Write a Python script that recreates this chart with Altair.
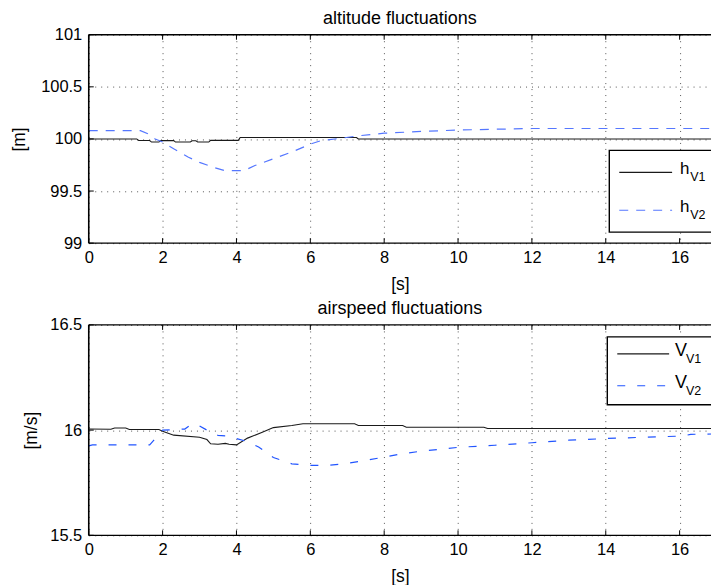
import altair as alt
import pandas as pd

# ---------------- data ----------------
x_ticks = [0, 2, 4, 6, 8, 10, 12, 14, 16]
alt_yticks = [99, 99.5, 100, 100.5, 101]
spd_yticks = [15.5, 16, 16.5]

# altitude, vehicle 1 (black solid)
t_h1 = [0, 1.3, 1.35, 1.65, 1.7, 1.9, 1.95, 2.3, 2.35, 2.75, 2.8, 2.9, 2.95,
        3.25, 3.3, 4.05, 4.1, 7.25, 7.3, 17]
h_v1 = [100, 100, 99.985, 99.985, 99.97, 99.97, 99.984, 99.984, 99.97, 99.97,
        99.982, 99.982, 99.97, 99.97, 99.986, 99.986, 100.014, 100.014, 100.0, 100.0]

# altitude, vehicle 2 (blue dashed)
t_h2 = [0, 1.4, 1.6, 1.8, 2.0, 2.3, 2.7, 3.0, 3.4, 3.7, 4.2, 4.5, 5.0, 5.5,
        6.0, 6.3, 6.8, 7.3, 8.0, 9.0, 10.0, 11.0, 12.0, 17.0]
h_v2 = [100.08, 100.08, 100.05, 100.0, 99.97, 99.905, 99.825, 99.775, 99.725,
        99.695, 99.695, 99.745, 99.81, 99.875, 99.95, 99.985, 100.005, 100.03,
        100.055, 100.072, 100.085, 100.093, 100.1, 100.1]

# airspeed, vehicle 1 (black solid)
t_v1 = [0, 0.6, 0.7, 1.0, 1.1, 1.9, 2.0, 2.3, 3.0, 3.2, 3.3, 3.5, 3.7, 3.8,
        4.0, 4.3, 4.7, 5.0, 5.5, 5.8, 7.2, 7.3, 8.5, 8.6, 10.7, 10.8, 17]
v_v1 = [16.005, 16.004, 16.01, 16.01, 16.003, 16.003, 15.995, 15.976, 15.966,
        15.955, 15.935, 15.933, 15.937, 15.933, 15.93, 15.962, 15.99, 16.012,
        16.022, 16.03, 16.03, 16.022, 16.022, 16.014, 16.014, 16.008, 16.008]

# airspeed, vehicle 2 (blue dashed)
t_v2 = [0, 0.1, 1.65, 1.85, 2.0, 2.6, 2.8, 3.0, 3.3, 3.5, 3.8, 4.0, 4.3, 4.6,
        5.0, 5.5, 6.0, 6.5, 7.0, 7.5, 8.0, 8.5, 9.0, 10.0, 11.0, 12.0, 13.0,
        14.0, 15.0, 16.1, 16.3, 17]
v_v2 = [15.925, 15.93, 15.93, 15.97, 16.0, 16.005, 16.03, 16.02, 15.99, 15.975,
        15.972, 15.96, 15.945, 15.92, 15.87, 15.84, 15.832, 15.833, 15.842,
        15.856, 15.872, 15.888, 15.9, 15.918, 15.928, 15.94, 15.952, 15.96,
        15.966, 15.972, 15.98, 15.982]

panel_titles = ["altitude fluctuations", "airspeed fluctuations"]
alt_legend_main = ["h", "h"]
spd_legend_main = ["V", "V"]
legend_sub = ["V1", "V2"]

# ---------------- styling ----------------
FONT = "Liberation Sans"
XMAX = 16.85
W = 624
GRID = dict(gridDash=[1, 5], gridColor="#555555", gridWidth=1, gridOpacity=1)


def panel(t1, y1, t2, y2, ydom, yticks, ytitle, ytitle_x, title, H, blue, dash,
          leg_main, leg_box, leg_lines, main_fs):
    xs = alt.Scale(domain=[0, XMAX], nice=False, zero=False)
    ys = alt.Scale(domain=ydom, nice=False, zero=False)
    d1 = pd.DataFrame({"t": t1, "v": y1})
    d2 = pd.DataFrame({"t": t2, "v": y2})

    xaxis = alt.Axis(values=x_ticks, ticks=False, domain=False, labelFlush=False,
                     labelFont=FONT, labelFontSize=16.5, labelColor="black",
                     labelPadding=6.5, title="[s]", titleFont=FONT,
                     titleFontSize=17.5, titleFontWeight="normal",
                     titleColor="black", titleY=41, titleBaseline="middle", **GRID)
    yaxis = alt.Axis(values=yticks, format="~g", ticks=False, domain=False,
                     labelFont=FONT, labelFontSize=16.5, labelColor="black",
                     labelPadding=7, title=ytitle, titleFont=FONT,
                     titleFontSize=17.5, titleFontWeight="normal",
                     titleColor="black", titleX=ytitle_x, titleY=H / 2,
                     titleAngle=270, titleAlign="center", titleBaseline="middle",
                     **GRID)
    X = alt.X("t:Q", scale=xs, axis=xaxis)
    Y = alt.Y("v:Q", scale=ys, axis=yaxis)

    line1 = alt.Chart(d1).mark_line(color="#1a1a1a", strokeWidth=1.1, clip=True).encode(
        x=X, y=Y)
    line2 = alt.Chart(d2).mark_line(color=blue, strokeWidth=1.2, strokeDash=dash,
                                    clip=True).encode(x=X, y=Y)

    one = pd.DataFrame({"k": [0]})
    ttl = alt.Chart(pd.DataFrame({"title": [title]})).mark_text(
        font=FONT, fontSize=18, align="center", baseline="alphabetic",
        color="black").encode(text="title:N", x=alt.value(W / 2), y=alt.value(-11))

    bx0, by0, by1 = leg_box
    box = alt.Chart(one).mark_rect(fill="white", stroke="black", strokeWidth=1.4,
                                   clip=True).encode(
        x=alt.value(bx0), x2=alt.value(W + 20), y=alt.value(by0), y2=alt.value(by1))

    layers = [line1, line2, ttl, box]
    lx0, lx1, tx, ly = leg_lines
    styles = [dict(color="#1a1a1a", strokeWidth=1.1),
              dict(color=blue, strokeWidth=1.2, strokeDash=dash)]
    for i in range(2):
        ld = pd.DataFrame({"m": [leg_main[i]], "s": [legend_sub[i]]})
        layers.append(alt.Chart(ld).mark_rule(**styles[i]).encode(
            x=alt.value(lx0), x2=alt.value(lx1), y=alt.value(ly[i])))
        layers.append(alt.Chart(ld).mark_text(
            font=FONT, fontSize=main_fs, align="left", baseline="alphabetic",
            color="black").encode(text="m:N", x=alt.value(tx), y=alt.value(ly[i] + 2)))
        layers.append(alt.Chart(ld).mark_text(
            font=FONT, fontSize=12.5, align="left", baseline="alphabetic",
            color="black").encode(text="s:N", x=alt.value(tx + main_fs * 0.6),
                                  y=alt.value(ly[i] + 9)))

    # frame (top, left, bottom) and inward MATLAB-style ticks
    layers.append(alt.Chart(one).mark_rule(color="black", strokeWidth=1.3).encode(
        x=alt.value(0), x2=alt.value(W), y=alt.value(0)))
    layers.append(alt.Chart(one).mark_rule(color="black", strokeWidth=1.3).encode(
        x=alt.value(0), x2=alt.value(W), y=alt.value(H)))
    layers.append(alt.Chart(one).mark_rule(color="black", strokeWidth=1.6).encode(
        x=alt.value(0), y=alt.value(0), y2=alt.value(H)))
    xt = pd.DataFrame({"t": x_ticks})
    yt = pd.DataFrame({"v": yticks})
    layers.append(alt.Chart(xt).mark_rule(color="black", strokeWidth=1).encode(
        x=X, y=alt.value(0), y2=alt.value(5)))
    layers.append(alt.Chart(xt).mark_rule(color="black", strokeWidth=1).encode(
        x=X, y=alt.value(H - 5), y2=alt.value(H)))
    layers.append(alt.Chart(yt).mark_rule(color="black", strokeWidth=1).encode(
        y=Y, x=alt.value(0), x2=alt.value(5)))

    return alt.layer(*layers).properties(width=W, height=H)


top = panel(t_h1, h_v1, t_h2, h_v2, [99, 101], alt_yticks, "[m]", -69,
            panel_titles[0], 209, "#5577ff", [9, 8], alt_legend_main,
            (522, 116, 198), (532, 585, 593, [138, 176]), 17)
bottom = panel(t_v1, v_v1, t_v2, v_v2, [15.5, 16.5], spd_yticks, "[m/s]", -57,
               panel_titles[1], 211, "#2255ff", [8, 12], spd_legend_main,
               (520, 12, 80), (530, 582, 588, [29, 61]), 18)

chart = alt.vconcat(top, bottom, spacing=6).properties(
    padding={"left": 10, "top": 8, "right": 0, "bottom": 4},
    background="white",
).configure_view(stroke="transparent")

chart.save("out.html", embed_options={"renderer": "svg", "actions": False})
